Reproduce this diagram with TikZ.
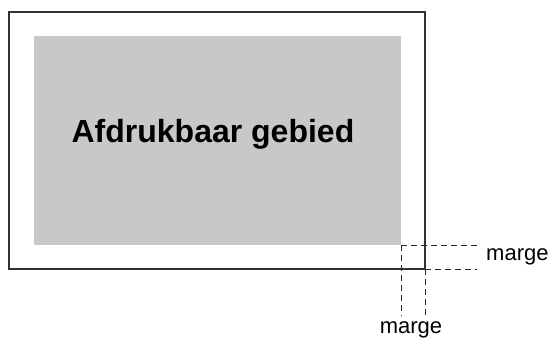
\documentclass[tikz,border=0pt]{standalone}
\usepackage{fontspec}
\setmainfont{Liberation Sans}
\definecolor{areagray}{RGB}{200,200,202}
\definecolor{framegray}{RGB}{50,50,50}
\begin{document}
\begin{tikzpicture}[x=1pt,y=-1pt,
  frame/.style={draw=framegray,line width=1.2pt},
  guide/.style={draw=black!85,line width=0.9pt,dash pattern=on 6pt off 4pt},
  lbl/.style={inner sep=0pt,font=\fontsize{22}{25}\selectfont}]
\useasboundingbox (0,0) rectangle (551,338);
\fill[white] (0,0) rectangle (551,338);
\draw[frame] (9,12) rectangle (425,269);
\fill[areagray] (34,36) rectangle (401,245);
\node[inner sep=0pt,anchor=base,font=\bfseries\fontsize{32}{36}\selectfont] (title) at (213,142) {Afdrukbaar gebied};
\coordinate (a1) at (401,245);
\coordinate (a2) at (477,245);
\coordinate (b1) at (425,269);
\coordinate (b2) at (477,269);
\coordinate (c2) at (401,316);
\coordinate (d2) at (425,316);
\draw[guide] (a1) -- (a2);
\draw[guide] (b1) -- (b2);
\draw[guide] (a1) -- (c2);
\draw[guide] (b1) -- (d2);
\node[lbl,anchor=base west] (m1) at (486,260) {marge};
\node[lbl,anchor=base] (m2) at (411,333) {marge};
\end{tikzpicture}
\end{document}
